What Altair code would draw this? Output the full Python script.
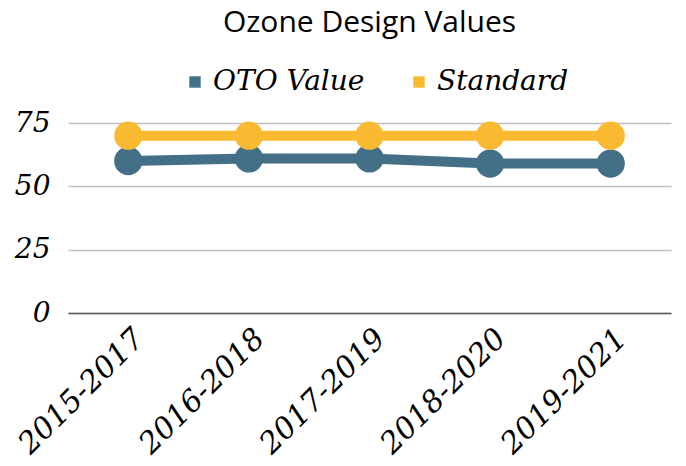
import altair as alt
import pandas as pd

periods = ["2015-2017", "2016-2018", "2017-2019", "2018-2020", "2019-2021"]
oto_values = [60, 61, 61, 59, 59]
standard_values = [70, 70, 70, 70, 70]
series_names = ["OTO Value", "Standard"]
series_colors = ["#436F87", "#F9B931"]

rows = []
for p, v in zip(periods, oto_values):
    rows.append({"period": p, "value": v, "series": series_names[0]})
for p, v in zip(periods, standard_values):
    rows.append({"period": p, "value": v, "series": series_names[1]})
df = pd.DataFrame(rows)

script_font = "DejaVu Serif"

color = alt.Color(
    "series:N",
    scale=alt.Scale(domain=series_names, range=series_colors),
    legend=alt.Legend(
        title=None, orient="none", direction="horizontal",
        legendX=113, legendY=-55,
        symbolType="square", symbolSize=130, symbolStrokeWidth=0,
        labelFont=script_font, labelFontStyle="italic", labelFontSize=28,
        labelColor="#000000", columnPadding=40, labelLimit=300,
    ),
)

x = alt.X(
    "period:N", sort=periods, title=None,
    axis=alt.Axis(
        labelAngle=-45, labelFont=script_font, labelFontStyle="italic",
        labelFontSize=30, labelColor="#000000", ticks=False,
        domainColor="#595959", domainWidth=1.5, labelPadding=10, labelLimit=300,
        labelAlign="right", labelBaseline="top",
    ),
    scale=alt.Scale(paddingInner=0, paddingOuter=0.5),
)
y = alt.Y(
    "value:Q", title=None,
    scale=alt.Scale(domain=[0, 75], nice=False),
    axis=alt.Axis(
        values=[0, 25, 50, 75], labelFont=script_font, labelFontStyle="italic",
        labelFontSize=28, labelColor="#000000", ticks=False, domain=False,
        gridColor="#BFBFBF", gridWidth=1.5, labelPadding=18,
    ),
)

base = alt.Chart(df).encode(x=x, y=y, color=color)
lines = base.mark_line(strokeWidth=10)
points = base.mark_circle(size=800, opacity=1)

chart = alt.layer(lines, points).properties(
    width=603, height=190,
    padding={"top": 0, "left": 5, "right": 5, "bottom": 5},
    title=alt.TitleParams(
        "Ozone Design Values", font="Open Sans", fontSize=30,
        fontWeight="normal", color="#000000", anchor="middle", offset=30,
    ),
).configure_view(stroke=None)

chart.save("out.html", embed_options={"renderer": "svg", "actions": False})
